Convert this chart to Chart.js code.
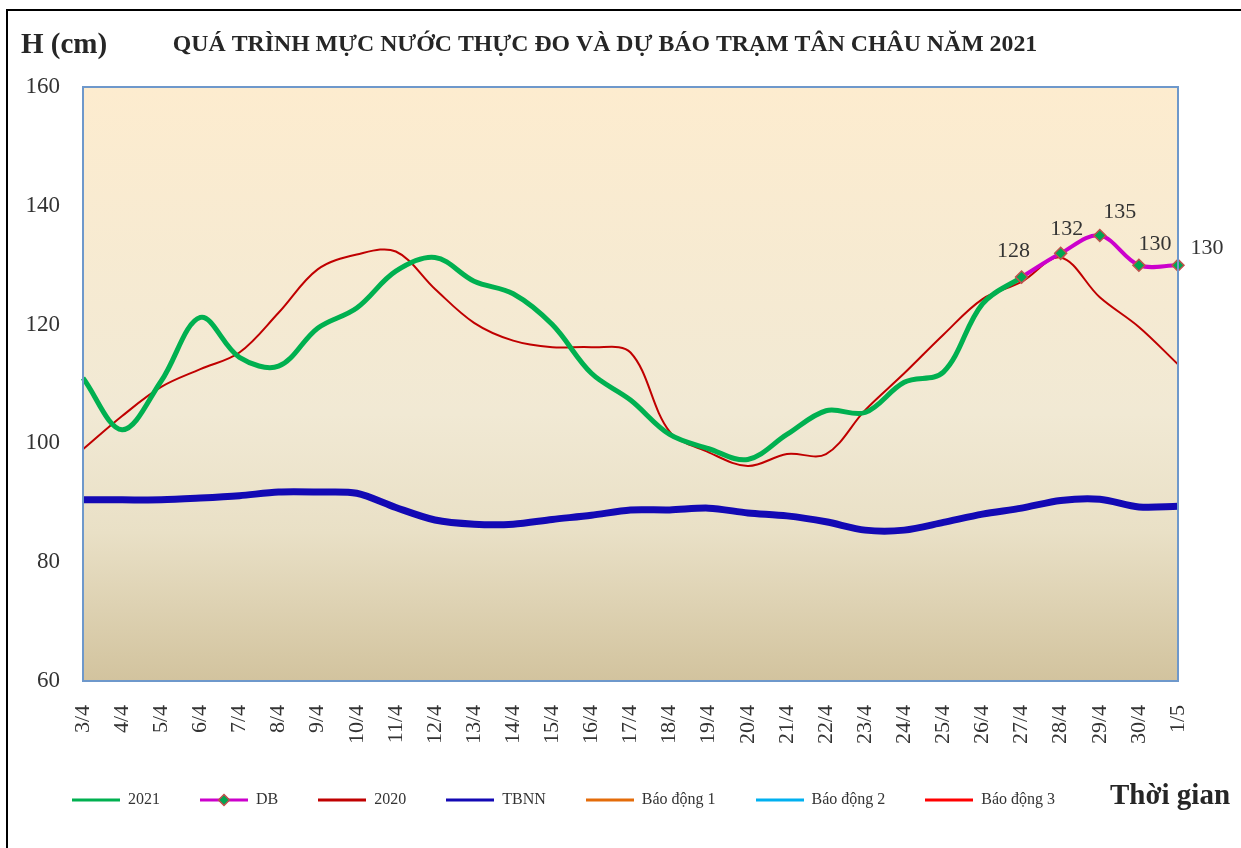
<!DOCTYPE html>
<html>
<head>
<meta charset="utf-8">
<script src="https://cdn.jsdelivr.net/npm/chart.js@4.4.0/dist/chart.umd.min.js"></script>
<style>
	html, body { margin: 0; padding: 0; background: #fff; }
</style>
</head>
<body>
<canvas id="myChart" width="1241" height="848"></canvas>
<script>
// ngày (trục X)
const days = ['3/4','4/4','5/4','6/4','7/4','8/4','9/4','10/4','11/4','12/4','13/4','14/4','15/4','16/4',
	'17/4','18/4','19/4','20/4','21/4','22/4','23/4','24/4','25/4','26/4','27/4','28/4','29/4','30/4','1/5'];

// mực nước thực đo 2021
const level2021 = [111, 102.3, 110.5, 121.2, 114.5, 113, 119.4, 122.8, 129, 131.3, 127.3, 125.2, 120, 111.8,
	107.3, 101.5, 99.1, 97.3, 101.5, 105.5, 105.2, 110.3, 112, 123.5, 128, null, null, null, null];
// dự báo
const levelDB = [null, null, null, null, null, null, null, null, null, null, null, null, null, null,
	null, null, null, null, null, null, null, null, null, null, 128, 132, 135, 130, 130];
// cùng kỳ 2020
const level2020 = [99, 104.6, 109.5, 112.5, 115.3, 122, 129.3, 131.8, 132.3, 126, 120.3, 117.3, 116.2, 116.2,
	115.3, 102, 98.5, 96.2, 98.2, 98.2, 105.6, 111.8, 118.3, 124.3, 127.2, 131.3, 124.6, 119.6, 113.3];
// trung bình nhiều năm
const levelTBNN = [90.5, 90.5, 90.5, 90.8, 91.2, 91.8, 91.8, 91.6, 89.2, 87.1, 86.4, 86.4, 87.2, 87.9,
	88.8, 88.8, 89.1, 88.3, 87.8, 86.8, 85.4, 85.4, 86.7, 88.1, 89.1, 90.4, 90.6, 89.3, 89.4];
// báo động (không có số liệu trong khung)
const levelBD1 = days.map(() => null);
const levelBD2 = days.map(() => null);
const levelBD3 = days.map(() => null);

const yTicks = { min: 60, max: 160, step: 20 };

// vị trí nhãn số liệu dự báo (lệch so với điểm)
const labelDx = [-8, 6, 20, 16, 29];
const labelDy = [-26, -24, -23, -21, -17];

const SERIF = "'Liberation Serif', 'Times New Roman', serif";
const TXT = '#333333';

function legendIcon(color, lw, diamond) {
	const c = document.createElement('canvas');
	c.width = 48; c.height = 14;
	const g = c.getContext('2d');
	g.strokeStyle = color;
	g.lineWidth = lw;
	g.beginPath(); g.moveTo(0, 7); g.lineTo(48, 7); g.stroke();
	if (diamond) {
		g.fillStyle = '#00A651';
		g.strokeStyle = '#C0504D';
		g.lineWidth = 1.5;
		g.beginPath(); g.moveTo(24, 1.5); g.lineTo(29.5, 7); g.lineTo(24, 12.5); g.lineTo(18.5, 7); g.closePath();
		g.fill(); g.stroke();
	}
	return c;
}

const bgPlugin = {
	id: 'bgPlugin',
	afterLayout(chart) {
		// đẩy chú thích sang phải cho khớp bản gốc
		if (chart.legend) chart.legend.left = 32;
	},
	beforeDraw(chart) {
		const {ctx, chartArea: a} = chart;
		const grd = ctx.createLinearGradient(0, a.top, 0, a.bottom);
		grd.addColorStop(0, '#FDECCF');
		grd.addColorStop(0.55, '#F1E9D4');
		grd.addColorStop(0.75, '#E9E0C6');
		grd.addColorStop(1, '#D2C39E');
		ctx.save();
		ctx.fillStyle = grd;
		ctx.fillRect(a.left, a.top, a.right - a.left, a.bottom - a.top);
		ctx.restore();
	},
	afterDraw(chart) {
		const {ctx, chartArea: a} = chart;
		ctx.save();
		// khung vùng vẽ
		ctx.strokeStyle = '#6E98CB';
		ctx.lineWidth = 2;
		ctx.strokeRect(a.left, a.top, a.right - a.left, a.bottom - a.top);
		// khung ngoài
		ctx.strokeStyle = '#000';
		ctx.lineWidth = 2;
		ctx.strokeRect(7, 10, 1400, 1000);
		// chữ
		ctx.fillStyle = '#262626';
		ctx.textBaseline = 'middle';
		ctx.textAlign = 'left';
		ctx.font = 'bold 29px ' + SERIF;
		ctx.fillText('H (cm)', 21, 46);
		ctx.textAlign = 'center';
		ctx.font = 'bold 23.8px ' + SERIF;
		ctx.fillText('QUÁ TRÌNH MỰC NƯỚC THỰC ĐO VÀ DỰ BÁO TRẠM TÂN CHÂU NĂM 2021', 605, 45);
		ctx.textAlign = 'left';
		ctx.font = 'bold 29px ' + SERIF;
		ctx.fillText('Thời gian', 1110, 797);
		ctx.restore();
	}
};

const valuePlugin = {
	id: 'valuePlugin',
	afterDatasetsDraw(chart) {
		const ctx = chart.ctx;
		const meta = chart.getDatasetMeta(1);
		ctx.save();
		ctx.font = '22px ' + SERIF;
		ctx.fillStyle = TXT;
		ctx.textAlign = 'center';
		ctx.textBaseline = 'middle';
		let k = 0;
		meta.data.forEach((pt, i) => {
			const v = levelDB[i];
			if (v === null) return;
			ctx.fillText(String(v), pt.x + labelDx[k], pt.y + labelDy[k]);
			k++;
		});
		ctx.restore();
	}
};

const icons = [
	legendIcon('#00B050', 3, false),
	legendIcon('#CC00CC', 3, true),
	legendIcon('#C00000', 3, false),
	legendIcon('#1309B4', 3, false),
	legendIcon('#E46C0A', 3, false),
	legendIcon('#00B0F0', 3, false),
	legendIcon('#FF0000', 3, false)
];

const chartData = {
	labels: days,
	datasets: [{
		label: '2021',
		data: level2021,
		borderColor: '#00B050',
		borderWidth: 5,
		tension: 0.35,
		pointRadius: 0,
		order: 0
	}, {
		label: 'DB',
		data: levelDB,
		borderColor: '#CC00CC',
		borderWidth: 4,
		tension: 0.35,
		pointStyle: 'rectRot',
		pointRadius: 6,
		pointBackgroundColor: '#00A651',
		pointBorderColor: '#C0504D',
		pointBorderWidth: 1.5,
		order: -1
	}, {
		label: '2020',
		data: level2020,
		borderColor: '#C00000',
		borderWidth: 2,
		tension: 0.35,
		pointRadius: 0,
		order: 1
	}, {
		label: 'TBNN',
		data: levelTBNN,
		borderColor: '#1309B4',
		borderWidth: 7,
		tension: 0.3,
		pointRadius: 0,
		order: 2
	}, {
		label: 'Báo động 1',
		data: levelBD1,
		borderColor: '#E46C0A',
		borderWidth: 3,
		pointRadius: 0,
		order: 3
	}, {
		label: 'Báo động 2',
		data: levelBD2,
		borderColor: '#00B0F0',
		borderWidth: 3,
		pointRadius: 0,
		order: 4
	}, {
		label: 'Báo động 3',
		data: levelBD3,
		borderColor: '#FF0000',
		borderWidth: 3,
		pointRadius: 0,
		order: 5
	}]
};

const ctx = document.getElementById('myChart').getContext('2d');
const myChart = new Chart(ctx, {
	type: 'line',
	data: chartData,
	plugins: [bgPlugin, valuePlugin],
	options: {
		responsive: false,
		animation: false,
		clip: false,
		layout: {
			padding: { top: 87, left: 10, right: 63, bottom: 30 }
		},
		plugins: {
			tooltip: { enabled: false },
			title: { display: false },
			legend: {
				position: 'bottom',
				align: 'start',
				labels: {
					padding: 40,
					color: TXT,
					font: { family: SERIF, size: 16 },
					usePointStyle: true,
					pointStyleWidth: 48,
					generateLabels: (chart) => chart.data.datasets.map((ds, i) => ({
						text: ds.label,
						fillStyle: ds.borderColor,
						strokeStyle: ds.borderColor,
						lineWidth: 0,
						pointStyle: icons[i],
						hidden: false,
						datasetIndex: i,
						fontColor: TXT
					}))
				}
			}
		},
		scales: {
			x: {
				grid: { display: false, drawTicks: false },
				border: { display: false },
				ticks: {
					autoSkip: false,
					minRotation: 90,
					maxRotation: 90,
					padding: 24,
					color: TXT,
					font: { family: SERIF, size: 22 }
				},
				afterFit: (scale) => { scale.height = 71; }
			},
			y: {
				min: yTicks.min,
				max: yTicks.max,
				grid: { display: false, drawTicks: false },
				border: { display: false },
				ticks: {
					stepSize: yTicks.step,
					padding: 23,
					color: TXT,
					font: { family: SERIF, size: 23 }
				},
				afterFit: (scale) => { scale.width = 73; }
			}
		}
	}
});
</script>
</body>
</html>
